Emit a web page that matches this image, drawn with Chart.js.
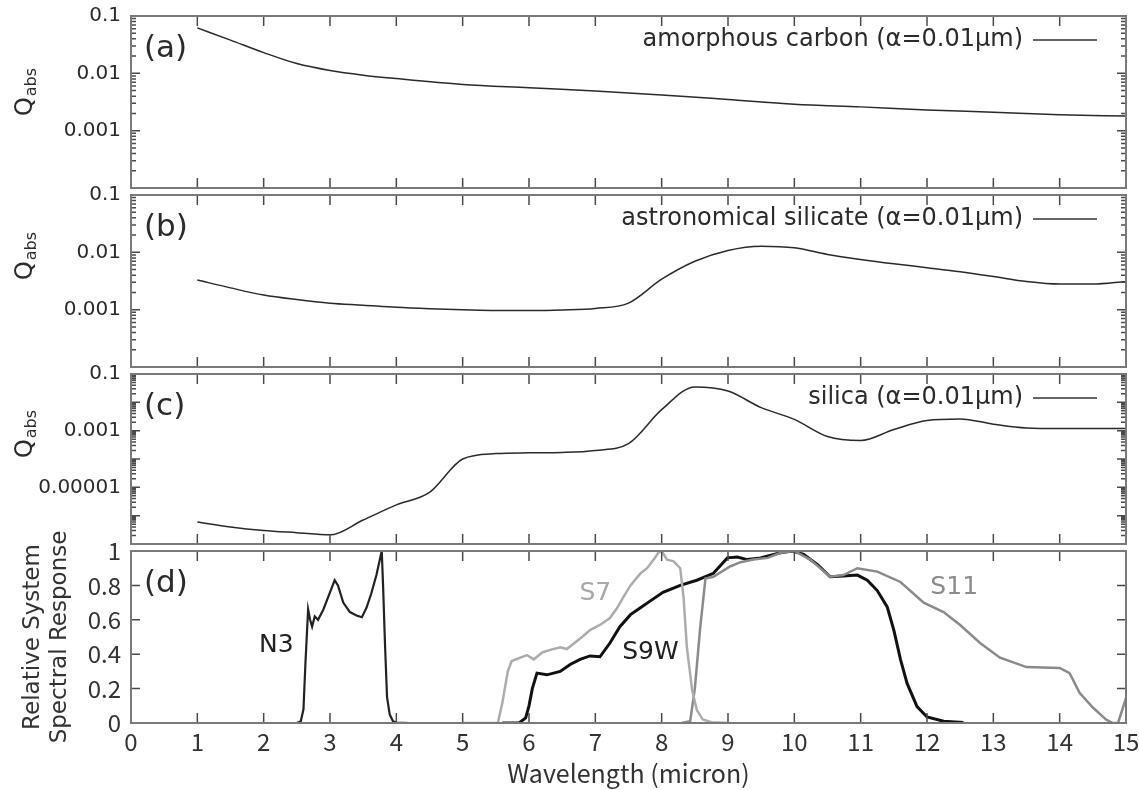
<!DOCTYPE html>
<html><head><meta charset="utf-8">
<script src="https://cdn.jsdelivr.net/npm/chart.js@4/dist/chart.umd.min.js"></script>
<style>
html,body{margin:0;padding:0;background:#fff;}
#wrap{position:relative;width:1139px;height:790px;overflow:hidden;background:#fff;}
canvas{position:absolute;left:0;}
</style></head><body><div id="wrap">
<canvas id="ca" width="1139" height="200" style="top:0px"></canvas>
<canvas id="cb" width="1139" height="200" style="top:179px"></canvas>
<canvas id="cc" width="1139" height="198" style="top:358px"></canvas>
<canvas id="cd" width="1139" height="280" style="top:510px"></canvas>
</div>
<script>
// ---------- data ----------
const wavelengthTicks = [0,1,2,3,4,5,6,7,8,9,10,11,12,13,14,15];

const lambdaA = [1,1.5,2,2.5,3,3.5,4,5,6,7,8,9,10,11,12,13,14,15];
const qCarbon = [0.062,0.038,0.023,0.0148,0.0112,0.0093,0.0081,0.0064,0.0056,0.0049,0.0042,0.0035,0.0029,0.0026,0.0023,0.0021,0.0019,0.0018];

const lambdaB = [1,1.5,2,2.5,3,3.5,4,4.5,5,5.5,6,6.5,7,7.5,8,8.5,9,9.5,10,10.5,11,11.5,12,12.5,13,13.5,14,14.5,15];
const qSilicate = [0.0033,0.0024,0.0018,0.0015,0.0013,0.0012,0.0011,0.00104,0.00100,0.00097,0.00097,0.00099,0.00105,0.00130,0.0034,0.0070,0.0108,0.0128,0.0120,0.0092,0.0075,0.0063,0.0054,0.0046,0.0038,0.0031,0.0028,0.0028,0.0031];

const lambdaC = [1,1.5,2,2.5,3,3.5,4,4.5,5,5.5,6,6.5,7,7.5,8,8.5,9,9.5,10,10.5,11,11.5,12,12.5,13,13.5,14,15];
const qSilica = [6e-7,4e-7,3e-7,2.5e-7,2.1e-7,7e-7,2.4e-6,6.6e-6,1e-4,1.55e-4,1.65e-4,1.7e-4,2e-4,3.5e-4,5.5e-3,0.035,0.025,0.0065,0.0025,6.2e-4,4.5e-4,1.1e-3,2.3e-3,2.6e-3,1.7e-3,1.25e-3,1.2e-3,1.2e-3];

const qTicksAB = [0.001,0.01,0.1];
const qLabelsAB = ['0.001','0.01','0.1'];
const qTicksC = [0.00001,0.001,0.1];
const qLabelsC = ['0.00001','0.001','0.1'];

const n3X = [2.3,2.5,2.56,2.6,2.63,2.67,2.7,2.73,2.77,2.82,2.9,3.0,3.07,3.12,3.2,3.3,3.4,3.48,3.55,3.62,3.7,3.78,3.8,3.83,3.86,3.9,3.95,4.0,4.2,5.2];
const n3Y = [0,0,0.01,0.08,0.35,0.66,0.6,0.56,0.62,0.6,0.66,0.76,0.83,0.8,0.7,0.645,0.625,0.615,0.67,0.75,0.86,1.0,0.8,0.45,0.15,0.05,0.01,0.003,0,0];

const s7X = [5.0,5.53,5.6,5.68,5.74,5.87,5.97,6.07,6.2,6.32,6.47,6.57,6.7,6.8,6.92,7.07,7.22,7.33,7.42,7.53,7.68,7.78,7.88,7.95,8.0,8.08,8.18,8.28,8.33,8.38,8.46,8.53,8.62,8.75,9.0];
const s7Y = [0,0,0.12,0.3,0.36,0.38,0.395,0.37,0.41,0.425,0.44,0.43,0.47,0.5,0.54,0.57,0.61,0.67,0.73,0.80,0.87,0.90,0.95,0.99,1.0,0.95,0.94,0.9,0.73,0.44,0.19,0.075,0.02,0.005,0];

const s9wX = [5.6,5.85,5.95,6.0,6.05,6.12,6.27,6.47,6.62,6.77,6.92,7.07,7.22,7.37,7.53,7.68,7.83,8.02,8.28,8.53,8.78,8.99,9.14,9.29,9.49,9.79,9.97,10.14,10.35,10.54,10.74,10.95,11.1,11.25,11.4,11.5,11.6,11.7,11.85,12.0,12.25,12.55];
const s9wY = [0,0,0.03,0.1,0.2,0.29,0.28,0.3,0.34,0.37,0.39,0.385,0.465,0.56,0.63,0.67,0.71,0.76,0.80,0.83,0.87,0.96,0.965,0.95,0.96,0.99,1.0,0.98,0.92,0.85,0.855,0.86,0.83,0.77,0.675,0.54,0.37,0.23,0.095,0.035,0.01,0.003];

const s11X = [8.3,8.43,8.5,8.58,8.66,8.78,9.03,9.19,9.38,9.6,9.79,10.0,10.24,10.54,10.74,10.95,11.25,11.6,11.95,12.25,12.5,12.8,13.1,13.5,14.0,14.15,14.3,14.5,14.7,14.8,14.88,15.0];
const s11Y = [0,0.01,0.2,0.55,0.84,0.85,0.91,0.935,0.95,0.96,0.99,1.0,0.95,0.85,0.86,0.9,0.88,0.82,0.70,0.645,0.57,0.465,0.38,0.325,0.32,0.29,0.175,0.09,0.02,0,0,0.145];

const responseTicks = [0,0.2,0.4,0.6,0.8,1];
const responseLabels = ['0','0.2','0.4','0.6','0.8','1'];

// ---------- helpers ----------
const pts = (xs, ys) => xs.map((x, i) => ({x: x, y: ys[i]}));
const JP = '"Noto Sans CJK JP", "DejaVu Sans", sans-serif';
const DV = '"DejaVu Sans", sans-serif';

const decoPlugin = {
  id: 'deco',
  afterDatasetsDraw(chart, args, o) {
    const ctx = chart.ctx, ca = chart.chartArea;
    const xs = chart.scales.x, ys = chart.scales.y;
    ctx.save();
    // inward ticks
    ctx.strokeStyle = '#4a4a4a'; ctx.lineWidth = 1.5;
    ctx.beginPath();
    wavelengthTicks.forEach(v => {
      if (v <= 0 || v >= 15) return;
      const px = xs.getPixelForValue(v);
      ctx.moveTo(px, ca.top); ctx.lineTo(px, ca.top + 10);
      ctx.moveTo(px, ca.bottom); ctx.lineTo(px, ca.bottom - 10);
    });
    const yt = [];
    if (o.log) {
      const lo = Math.round(Math.log10(ys.min)), hi = Math.round(Math.log10(ys.max));
      for (let d = lo; d <= hi; d++) {
        for (let k = 1; k <= 9; k++) {
          const v = k * Math.pow(10, d);
          if (v > ys.max * 1.0001) break;
          yt.push([v, k === 1 ? 9 : 5]);
        }
      }
    } else {
      responseTicks.forEach(v => yt.push([v, 9]));
    }
    yt.forEach(([v, len]) => {
      const py = ys.getPixelForValue(v);
      if (py < ca.top + 1 || py > ca.bottom - 1) return;
      ctx.moveTo(ca.left, py); ctx.lineTo(ca.left + len, py);
      ctx.moveTo(ca.right, py); ctx.lineTo(ca.right - len, py);
    });
    ctx.stroke();
    // frame
    ctx.strokeStyle = '#7a7a7a'; ctx.lineWidth = 2;
    ctx.strokeRect(ca.left, ca.top, ca.right - ca.left, ca.bottom - ca.top);
    // panel label
    ctx.fillStyle = '#2b2b2b';
    ctx.font = '31px ' + DV; ctx.textBaseline = 'middle'; ctx.textAlign = 'left';
    ctx.fillText(o.label, ca.left + 13, ca.top + 33);
    // legend
    if (o.legend) {
      const ly = ca.top + 24;
      ctx.font = '24px ' + DV; ctx.textAlign = 'right';
      ctx.fillText(o.legend, ca.right - 103, ly);
      ctx.strokeStyle = '#333'; ctx.lineWidth = 1.5;
      ctx.beginPath(); ctx.moveTo(ca.right - 93, ly); ctx.lineTo(ca.right - 29, ly); ctx.stroke();
    }
    // Q_abs axis title
    if (o.qShift !== undefined) {
      ctx.font = '24px ' + DV;
      const wQ = ctx.measureText('Q').width;
      ctx.font = '16px ' + DV;
      const wS = ctx.measureText('abs').width;
      const run = wQ + wS + 1;
      const cy = (ca.top + ca.bottom) / 2 + o.qShift;
      ctx.save();
      ctx.translate(32, cy + run / 2); ctx.rotate(-Math.PI / 2);
      ctx.textAlign = 'left'; ctx.textBaseline = 'alphabetic';
      ctx.font = '24px ' + DV; ctx.fillText('Q', 0, 0);
      ctx.font = '16px ' + DV; ctx.fillText('abs', wQ + 1, 4);
      ctx.restore();
    }
    // band names
    if (o.notes) {
      o.notes.forEach(n => {
        ctx.font = '25px ' + DV; ctx.fillStyle = n.color;
        ctx.textAlign = 'center'; ctx.textBaseline = 'middle';
        ctx.fillText(n.text, xs.getPixelForValue(n.x), ys.getPixelForValue(n.y));
      });
    }
    ctx.restore();
  }
};

function curve(xs, ys) {
  return { data: pts(xs, ys), borderColor: '#2a2a2a', borderWidth: 1.5, pointRadius: 0,
           fill: false, cubicInterpolationMode: 'monotone' };
}

function logPanel(id, dataset, min, tickVals, tickLabels, deco) {
  return new Chart(document.getElementById(id), {
    type: 'line',
    data: { datasets: [dataset] },
    options: {
      responsive: false, animation: false, events: [],
      layout: { padding: { left: 0, right: 13, top: 16, bottom: 12 } },
      plugins: { legend: { display: false }, tooltip: { enabled: false }, deco: deco },
      scales: {
        x: { type: 'linear', min: 0, max: 15, display: false },
        y: {
          type: 'logarithmic', min: min, max: 0.1,
          afterBuildTicks: s => { s.ticks = tickVals.map(v => ({ value: v })); },
          ticks: { callback: (v, i) => tickLabels[i], font: { family: DV, size: 20 }, color: '#2b2b2b', padding: 10, autoSkip: false },
          grid: { display: false, drawTicks: false },
          border: { display: false },
          afterFit: s => { s.width = 131; s.paddingTop = 0; s.paddingBottom = 0; }
        }
      }
    },
    plugins: [decoPlugin]
  });
}

logPanel('ca', curve(lambdaA, qCarbon), 1e-4, qTicksAB, qLabelsAB,
  { log: true, label: '(a)', legend: 'amorphous carbon (α=0.01μm)', qShift: -10 });
logPanel('cb', curve(lambdaB, qSilicate), 1e-4, qTicksAB, qLabelsAB,
  { log: true, label: '(b)', legend: 'astronomical silicate (α=0.01μm)', qShift: -25 });
logPanel('cc', curve(lambdaC, qSilica), 1e-7, qTicksC, qLabelsC,
  { log: true, label: '(c)', legend: 'silica (α=0.01μm)', qShift: -25 });

new Chart(document.getElementById('cd'), {
  type: 'line',
  data: { datasets: [
    { label: 'S7', data: pts(s7X, s7Y), borderColor: '#acacac', borderWidth: 2.5, pointRadius: 0, fill: false, tension: 0 },
    { label: 'S11', data: pts(s11X, s11Y), borderColor: '#8a8a8a', borderWidth: 2.5, pointRadius: 0, fill: false, tension: 0 },
    { label: 'N3', data: pts(n3X, n3Y), borderColor: '#222', borderWidth: 2.2, pointRadius: 0, fill: false, tension: 0 },
    { label: 'S9W', data: pts(s9wX, s9wY), borderColor: '#111', borderWidth: 3, pointRadius: 0, fill: false, tension: 0 }
  ] },
  options: {
    responsive: false, animation: false, events: [],
    layout: { padding: { left: 0, right: 13, top: 41, bottom: 0 } },
    plugins: { legend: { display: false }, tooltip: { enabled: false },
      deco: { log: false, label: '(d)', notes: [
        { text: 'N3', x: 2.19, y: 0.45, color: '#222' },
        { text: 'S7', x: 7.0, y: 0.755, color: '#a8a8a8' },
        { text: 'S9W', x: 7.83, y: 0.41, color: '#222' },
        { text: 'S11', x: 12.41, y: 0.79, color: '#8c8c8c' }
      ] } },
    scales: {
      x: { type: 'linear', min: 0, max: 15,
        afterBuildTicks: s => { s.ticks = wavelengthTicks.map(v => ({ value: v })); },
        ticks: { font: { family: JP, size: 24 }, color: '#333', padding: 4, maxRotation: 0, autoSkip: false },
        grid: { display: false, drawTicks: false }, border: { display: false },
        title: { display: true, text: 'Wavelength (micron)', font: { family: JP, size: 25 }, color: '#333', padding: { top: 0, bottom: 2 } },
        afterFit: s => { s.height = 67; s.paddingLeft = 0; s.paddingRight = 0; }
      },
      y: { type: 'linear', min: 0, max: 1,
        afterBuildTicks: s => { s.ticks = responseTicks.map(v => ({ value: v })); },
        ticks: { callback: (v, i) => responseLabels[i], font: { family: JP, size: 24 }, color: '#333', padding: 10, autoSkip: false },
        grid: { display: false, drawTicks: false }, border: { display: false },
        title: { display: true, text: ['Relative System', 'Spectral Response'], font: { family: DV, size: 23, lineHeight: '27px' }, color: '#333', padding: { top: 19.5, bottom: 0 } },
        afterFit: s => { s.width = 131; s.paddingTop = 0; s.paddingBottom = 0; }
      }
    }
  },
  plugins: [decoPlugin]
});
</script>
</body></html>
